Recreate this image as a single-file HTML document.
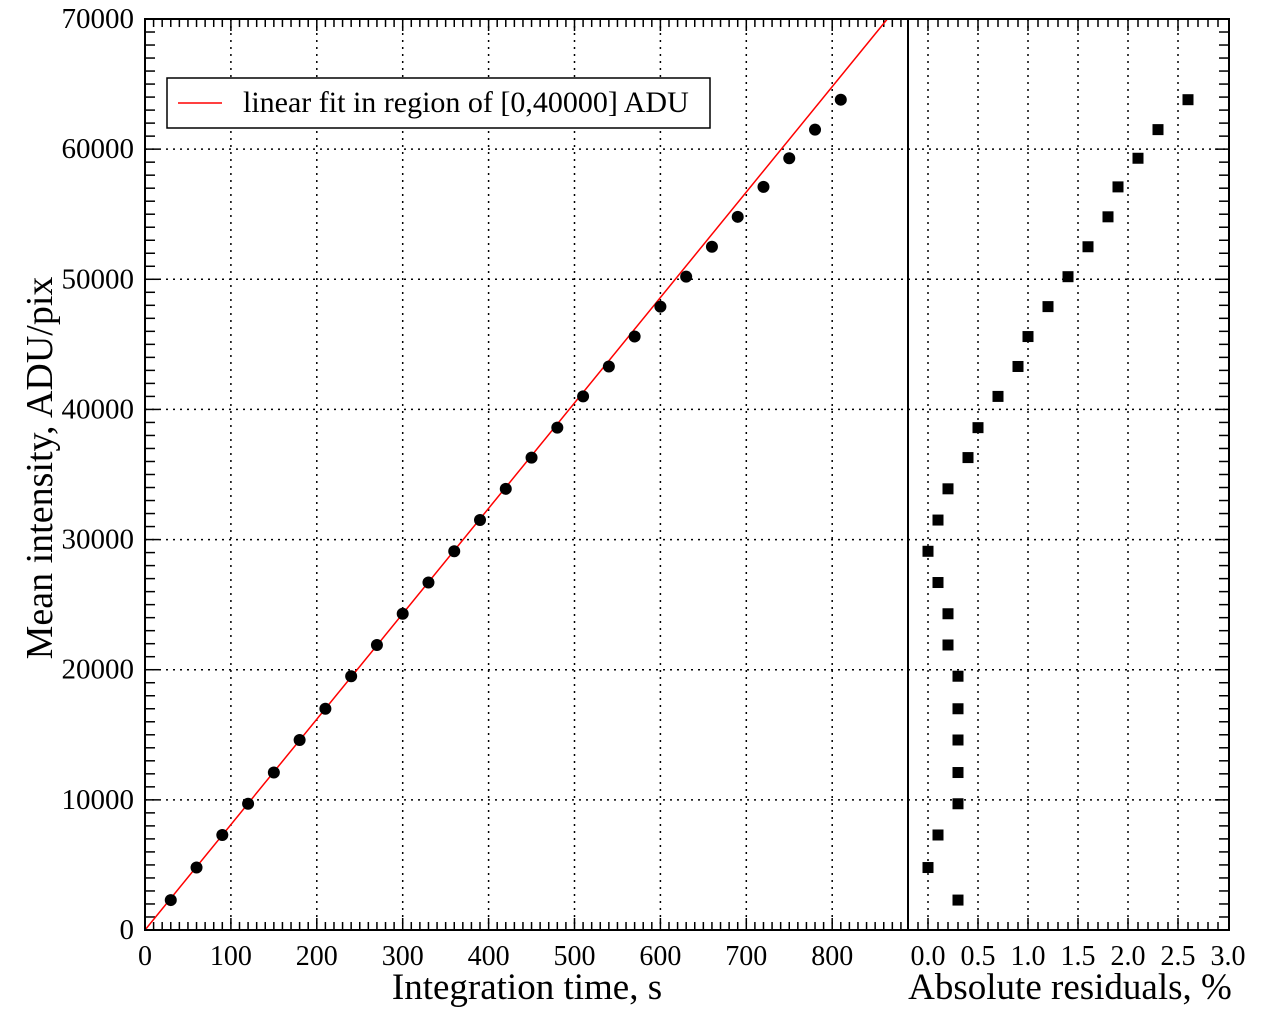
<!DOCTYPE html>
<html><head><meta charset="utf-8"><style>
html,body{margin:0;padding:0;background:#fff}
svg{display:block}
text{font-family:"Liberation Serif",serif;fill:#000}
</style></head><body>
<svg id="s" width="1263" height="1021" xmlns="http://www.w3.org/2000/svg"></svg>
<script>
const s=document.getElementById('s');let h='';
const L=145,SEP=908,R=1229,T=19,B=930;
const X=t=>L+t*0.859, Y=v=>B-v*(B-T)/70000, XR=r=>928+r*100;
for(let t=100;t<=800;t+=100)h+=`<line x1="${X(t)}" y1="${T}" x2="${X(t)}" y2="${B}" stroke="#000" stroke-width="1.5" stroke-dasharray="2,5"/>`;
for(let r=0;r<=2.51;r+=0.5)h+=`<line x1="${XR(r)}" y1="${T}" x2="${XR(r)}" y2="${B}" stroke="#000" stroke-width="1.5" stroke-dasharray="2,5"/>`;
for(let v=10000;v<70000;v+=10000)h+=`<line x1="${L}" y1="${Y(v)}" x2="${R}" y2="${Y(v)}" stroke="#000" stroke-width="1.5" stroke-dasharray="2,5"/>`;
for(let t=10;t<888;t+=10){const x=X(t),l=t%100==0?12:8;h+=`<line x1="${x}" y1="${B}" x2="${x}" y2="${B-l}" stroke="#000" stroke-width="1.5"/><line x1="${x}" y1="${T}" x2="${x}" y2="${T+l}" stroke="#000" stroke-width="1.5"/>`;}
for(let i=-1;i<30;i++){const x=XR(i/10),l=i%5==0?12:8;h+=`<line x1="${x}" y1="${B}" x2="${x}" y2="${B-l}" stroke="#000" stroke-width="1.5"/><line x1="${x}" y1="${T}" x2="${x}" y2="${T+l}" stroke="#000" stroke-width="1.5"/>`;}
for(let v=1000;v<70000;v+=1000){const y=Y(v),l=v%10000==0?14:10;h+=`<line x1="${L}" y1="${y}" x2="${L+l}" y2="${y}" stroke="#000" stroke-width="1.5"/><line x1="${R}" y1="${y}" x2="${R-l}" y2="${y}" stroke="#000" stroke-width="1.5"/>`;}
h+=`<line x1="${X(0)}" y1="${Y(0)}" x2="${X(70000/81)}" y2="${Y(70000)}" stroke="#f00" stroke-width="1.5"/>`;
const ys=[2300,4800,7300,9700,12100,14600,17000,19500,21900,24300,26700,29100,31500,33900,36300,38600,41000,43300,45600,47900,50200,52500,54800,57100,59300,61500,63800];
const rs=[0.3,0,0.1,0.3,0.3,0.3,0.3,0.3,0.2,0.2,0.1,0,0.1,0.2,0.4,0.5,0.7,0.9,1.0,1.2,1.4,1.6,1.8,1.9,2.1,2.3,2.6];
ys.forEach((v,i)=>{h+=`<circle cx="${X(30*(i+1))}" cy="${Y(v)}" r="6" fill="#000"/>`;h+=`<rect x="${XR(rs[i])-5.5}" y="${Y(v)-5.5}" width="11" height="11" fill="#000"/>`;});
h+=`<rect x="${L}" y="${T}" width="${R-L}" height="${B-T}" fill="none" stroke="#000" stroke-width="2"/>`;
h+=`<line x1="${SEP}" y1="${T}" x2="${SEP}" y2="${B}" stroke="#000" stroke-width="2"/>`;
for(let t=0;t<=800;t+=100)h+=`<text x="${X(t)}" y="965" font-size="28" text-anchor="middle">${t}</text>`;
for(let i=0;i<=6;i++)h+=`<text x="${XR(i/2)}" y="965" font-size="28" text-anchor="middle">${(i/2).toFixed(1)}</text>`;
for(let v=0;v<=70000;v+=10000)h+=`<text x="134" y="${Y(v)+9}" font-size="29" text-anchor="end">${v}</text>`;
h+=`<text x="527" y="999" font-size="37" text-anchor="middle">Integration time, s</text>`;
h+=`<text x="1070" y="999" font-size="37" text-anchor="middle">Absolute residuals, %</text>`;
h+=`<text transform="translate(52,468) rotate(-90)" font-size="38" text-anchor="middle">Mean intensity, ADU/pix</text>`;
h+=`<rect x="167" y="78" width="543" height="50" fill="#fff" stroke="#000" stroke-width="1.5"/>`;
h+=`<line x1="178" y1="103" x2="222" y2="103" stroke="#f00" stroke-width="1.5"/>`;
h+=`<text x="243" y="112" font-size="30">linear fit in region of [0,40000] ADU</text>`;
s.innerHTML=h;
</script>
</body></html>
